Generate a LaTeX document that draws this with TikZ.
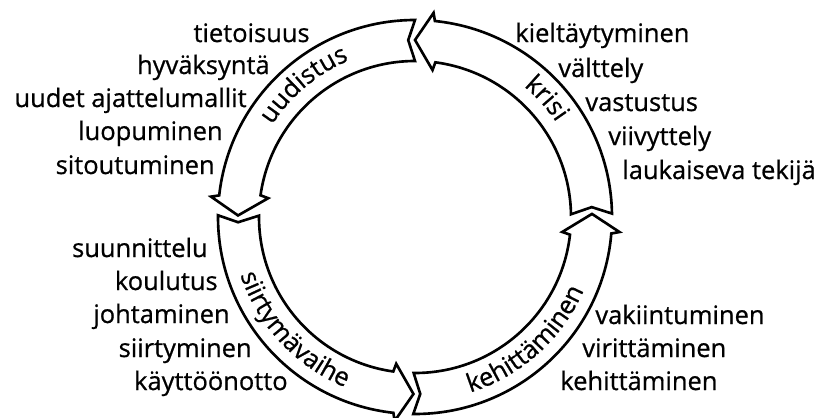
\documentclass[tikz,border=0pt]{standalone}
\usepackage{fontspec}
\setmainfont{Open Sans}[FakeBold=0.7]
\usetikzlibrary{decorations.text}
\newcommand\phasefont{\fontsize{14.5}{17}\selectfont}

\begin{document}
\begin{tikzpicture}[
    x=0.02cm, y=0.02cm,
    lbl/.style={font=\phasefont, inner sep=0pt},
    lleft/.style={lbl, anchor=base east},
    lright/.style={lbl, anchor=base west},
    ringarrow/.style={draw=black, fill=white, line width=1.5pt},
    phase/.style={decorate, decoration={text along path, text align=center, text={|\phasefont|#1}}}
    ]
  \useasboundingbox (0,0) rectangle (817,417);
  \begin{scope}[shift={(415,200)}]
    % ring of four arrows, tail at \a and tip at \b
    \foreach \a/\b in {1/90, 90/179.5, 179.5/269.5, 269.5/361}
      \draw[ringarrow] ({\a}:197) arc[start angle=\a, end angle=\b-5.8, radius=197]
        -- ({\b-5.2}:205) -- ({\b}:177) -- ({\b-6.8}:148) -- ({\b-7.5}:156)
        arc[start angle=\b-7.5, end angle=\a, radius=156] -- ({\a+2.2}:177) -- cycle;
    % phase names
    \path[phase=uudistus] (148:170) arc[start angle=148, end angle=112, radius=170];
    \path[phase=krisi] (60:170) arc[start angle=60, end angle=24, radius=170];
    \path[phase=siirtymävaihe] (195:184) arc[start angle=195, end angle=251, radius=184];
    \path[phase=kehittäminen] (284:184) arc[start angle=284, end angle=340, radius=184];
  \end{scope}
  % uudistus
  \node[lleft] (u1) at (310,375) {tietoisuus};
  \node[lleft] (u2) at (270,343) {hyväksyntä};
  \node[lleft] (u3) at (247,310) {uudet ajattelumallit};
  \node[lleft] (u4) at (223,277) {luopuminen};
  \node[lleft] (u5) at (215,243) {sitoutuminen};
  % krisi
  \node[lright] (k1) at (515,375) {kieltäytyminen};
  \node[lright] (k2) at (558,340) {välttely};
  \node[lright] (k3) at (585,306) {vastustus};
  \node[lright] (k4) at (608,272) {viivyttely};
  \node[lright] (k5) at (622,238) {laukaiseva tekijä};
  % siirtymävaihe
  \node[lleft] (s1) at (208,160) {suunnittelu};
  \node[lleft] (s2) at (218,127) {koulutus};
  \node[lleft] (s3) at (230,94) {johtaminen};
  \node[lleft] (s4) at (252,60) {siirtyminen};
  \node[lleft] (s5) at (288,27) {käyttöönotto};
  % kehittäminen
  \node[lright] (e1) at (595,93) {vakiintuminen};
  \node[lright] (e2) at (582,60) {virittäminen};
  \node[lright] (e3) at (560,27) {kehittäminen};
\end{tikzpicture}
\end{document}
